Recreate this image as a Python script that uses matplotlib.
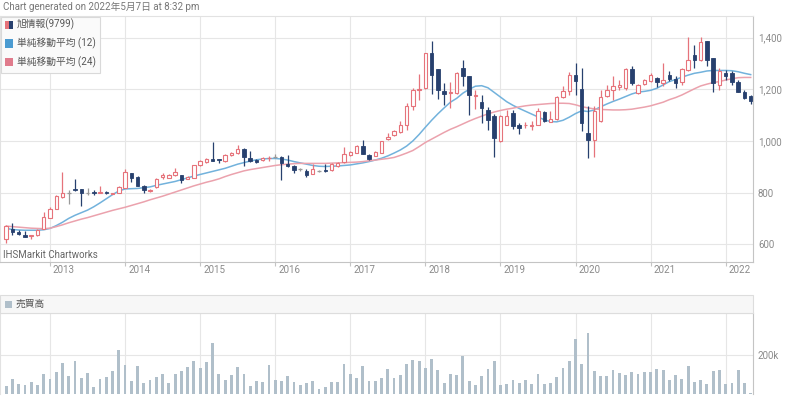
import numpy as np
import pandas as pd
import matplotlib
matplotlib.use("Agg")
import matplotlib.pyplot as plt
from matplotlib.patches import Rectangle
from matplotlib.transforms import ScaledTranslation

plt.rcParams["font.family"] = ["Roboto", "Noto Sans CJK JP", "DejaVu Sans"]

# 月足データ (2012年6月 〜 2022年5月)
months = pd.period_range("2012-06", "2022-05", freq="M")

opens = [619, 660, 647, 637, 632, 634, 660, 702, 738, 783, 800, 815, 812, 800, 803, 800, 803, 796, 800, 818,
         876, 861, 826, 805, 822, 859, 858, 867, 867, 854, 858, 905, 918, 931, 931, 922, 946, 952, 968, 935,
         926, 926, 933, 939, 939, 909, 903, 890, 885, 872, 885, 887, 887, 903, 917, 946, 955, 981, 946, 943,
         955, 1007, 1024, 1034, 1060, 1135, 1198, 1205, 1340, 1278, 1192, 1186, 1185, 1282, 1250, 1175, 1150, 1121, 1095, 1000,
         1063, 1108, 1063, 1060, 1058, 1063, 1114, 1073, 1086, 1172, 1192, 1254, 1203, 1030, 1004, 1078, 1175, 1198, 1208, 1204,
         1278, 1185, 1221, 1234, 1243, 1224, 1254, 1239, 1227, 1276, 1334, 1314, 1386, 1321, 1217, 1265, 1265, 1230, 1191, 1175]
highs = [674, 684, 654, 650, 637, 660, 725, 744, 790, 880, 809, 854, 812, 818, 809, 826, 805, 800, 826, 891,
         876, 865, 828, 812, 855, 874, 870, 897, 867, 864, 906, 926, 934, 997, 931, 951, 957, 983, 974, 961,
         929, 939, 942, 948, 942, 946, 906, 897, 890, 909, 888, 909, 916, 920, 975, 961, 985, 1004, 948, 962,
         1000, 1030, 1043, 1076, 1148, 1205, 1259, 1342, 1388, 1280, 1224, 1230, 1268, 1314, 1252, 1199, 1177, 1130, 1104, 1101,
         1121, 1121, 1069, 1072, 1076, 1127, 1117, 1117, 1175, 1211, 1266, 1301, 1282, 1134, 1134, 1199, 1217, 1250, 1237, 1282,
         1291, 1220, 1240, 1263, 1247, 1302, 1269, 1250, 1282, 1402, 1373, 1402, 1388, 1321, 1282, 1276, 1269, 1237, 1198, 1179]
lows = [606, 637, 634, 628, 619, 632, 658, 701, 735, 777, 757, 805, 748, 792, 792, 800, 796, 794, 800, 816,
        841, 824, 800, 803, 818, 851, 855, 864, 836, 851, 856, 903, 916, 922, 913, 918, 942, 948, 903, 918,
        913, 922, 922, 932, 849, 898, 875, 884, 862, 870, 880, 880, 884, 899, 916, 943, 952, 949, 926, 940,
        952, 1004, 1020, 1030, 1043, 1119, 1159, 1202, 1181, 1163, 1140, 1128, 1180, 1211, 1099, 1125, 1069, 1043, 939, 997,
        1060, 1048, 1028, 1050, 1043, 1060, 1075, 1072, 1082, 1168, 1177, 1179, 1037, 932, 939, 1075, 1172, 1159, 1198, 1198,
        1217, 1183, 1217, 1230, 1208, 1211, 1234, 1204, 1217, 1269, 1282, 1308, 1291, 1191, 1198, 1237, 1217, 1188, 1162, 1144]
closes = [671, 647, 641, 628, 636, 654, 706, 738, 786, 800, 800, 808, 800, 800, 797, 803, 797, 800, 822, 880,
          857, 826, 809, 809, 851, 867, 867, 880, 849, 860, 905, 922, 931, 922, 925, 944, 955, 970, 939, 922,
          918, 935, 935, 939, 916, 901, 887, 890, 868, 890, 885, 882, 909, 916, 949, 956, 981, 949, 929, 956,
          998, 1017, 1037, 1063, 1135, 1198, 1203, 1340, 1256, 1198, 1183, 1190, 1265, 1250, 1179, 1178, 1127, 1082, 1010, 1095,
          1095, 1057, 1050, 1062, 1062, 1117, 1078, 1086, 1172, 1195, 1254, 1231, 1069, 1004, 1117, 1172, 1198, 1213, 1217, 1278,
          1224, 1217, 1237, 1256, 1227, 1237, 1239, 1224, 1278, 1312, 1312, 1382, 1314, 1224, 1269, 1250, 1227, 1191, 1166, 1153]

# 単純移動平均 (チャートから読み取り)
sma12 = [661, 657, 655, 654, 654, 654, 656, 661, 672, 685, 700, 712, 722, 732, 745, 760, 776, 792, 806, 814,
         815, 816, 819, 822, 828, 833, 838, 843, 850, 857, 864, 870, 876, 882, 888, 894, 902, 910, 916, 922,
         927, 930, 932, 932, 930, 926, 920, 915, 910, 905, 902, 901, 902, 903, 905, 907, 911, 915, 920, 926,
         933, 942, 953, 965, 980, 1000, 1025, 1053, 1080, 1105, 1128, 1150, 1165, 1185, 1200, 1212, 1214, 1206, 1188, 1170,
         1152, 1138, 1126, 1115, 1104, 1093, 1082, 1075, 1074, 1080, 1092, 1106, 1117, 1114, 1120, 1132, 1143, 1153, 1162, 1172,
         1182, 1189, 1192, 1196, 1204, 1217, 1230, 1238, 1247, 1255, 1262, 1266, 1271, 1273, 1273, 1273, 1272, 1268, 1262, 1257]
sma24 = [670, 668, 666, 664, 662, 661, 660, 662, 668, 675, 683, 690, 697, 703, 710, 717, 724, 731, 737, 743,
         750, 757, 764, 772, 779, 786, 794, 802, 810, 818, 826, 833, 840, 846, 853, 862, 870, 877, 884, 889,
         893, 897, 901, 905, 908, 910, 912, 913, 913, 913, 913, 913, 914, 915, 916, 917, 918, 920, 923, 926,
         929, 932, 936, 944, 953, 963, 978, 994, 1007, 1020, 1033, 1045, 1055, 1066, 1077, 1087, 1096, 1105, 1112, 1118,
         1123, 1127, 1132, 1136, 1139, 1141, 1143, 1145, 1146, 1146, 1145, 1140, 1133, 1128, 1124, 1122, 1121, 1120, 1120, 1121,
         1123, 1127, 1131, 1136, 1143, 1150, 1160, 1168, 1178, 1190, 1202, 1213, 1220, 1226, 1230, 1236, 1241, 1245, 1246, 1246]

# 売買高 (千株)
volume_k = [42, 76, 51, 46, 63, 46, 100, 76, 112, 159, 92, 168, 80, 108, 37, 76, 88, 119, 222, 146,
            68, 142, 58, 71, 88, 100, 54, 103, 119, 139, 168, 134, 163, 259, 103, 73, 97, 137, 103, 42,
            68, 63, 149, 73, 68, 92, 59, 47, 54, 68, 27, 37, 63, 63, 154, 100, 83, 142, 68, 68,
            80, 129, 83, 95, 153, 171, 166, 132, 178, 124, 58, 102, 95, 195, 66, 46, 90, 127, 170, 46,
            53, 69, 56, 69, 49, 102, 53, 56, 86, 132, 170, 278, 153, 310, 119, 90, 90, 120, 107, 98,
            112, 103, 112, 112, 127, 124, 71, 98, 78, 144, 61, 71, 49, 117, 120, 51, 58, 120, 56, 7]

price_ticks = [600, 800, 1000, 1200, 1400]

RED = "#e6737b"
NAVY = "#27406e"
GRAY = "#9a9a9a"
BLUE = "#72b2dc"
PINK = "#eba2ad"
VOLC = "#b0bfca"
GRID = "#e6e6e6"
TXT = "#777777"

W, H = 800, 396
fig = plt.figure(figsize=(W / 100, H / 100), dpi=100)


def box(x0, y0, x1, y1):
    # ピクセル座標(上が0) -> figure座標
    return [x0 / W, 1 - y1 / H, (x1 - x0) / W, (y1 - y0) / H]


ax = fig.add_axes(box(0, 16, 753, 262))
vax = fig.add_axes(box(0, 313, 753, 394))

x = np.arange(len(months))
o, h, l, c = map(np.array, (opens, highs, lows, closes))
up = c > o
down = c < o
flat = c == o
wick_colors = np.where(up, RED, np.where(down, NAVY, GRAY))

# ローソク足
ax.vlines(x, l, h, colors=wick_colors, lw=0.9, zorder=3)
lo = np.minimum(o, c)
ht = np.abs(c - o)
ax.bar(x[up], ht[up], bottom=lo[up], width=0.55, facecolor="white", edgecolor=RED, lw=0.8, zorder=4)
ax.bar(x[down], ht[down], bottom=lo[down], width=0.55, facecolor=NAVY, edgecolor=NAVY, lw=0.6, zorder=4)
ax.hlines(c[flat], x[flat] - 0.3, x[flat] + 0.3, colors=GRAY, lw=0.9, zorder=4)

ax.plot(x, sma12, color=BLUE, lw=1.1, zorder=2)
ax.plot(x, sma24, color=PINK, lw=1.1, zorder=2)

ax.set_xlim(-0.99, 119.37)
ax.set_ylim(531, 1484)

year_idx = [i for i, p in enumerate(months) if p.month == 1]
year_labels = [str(months[i].year) for i in year_idx]

for a in (ax, vax):
    a.set_xlim(-0.99, 119.37)
    a.set_xticks(year_idx)
    a.grid(True, color=GRID, lw=0.8, zorder=0)
    a.set_axisbelow(True)
    a.yaxis.tick_right()
    a.tick_params(axis="y", length=0, pad=3.6, labelsize=7, labelcolor="#8a8a8a")
    for side in ("top", "left"):
        a.spines[side].set_color("#e2e2e2")
    for side in ("right", "bottom"):
        a.spines[side].set_color("#c4c4c4")

ax.set_yticks(price_ticks)
ax.set_yticklabels([f"{v:,}" for v in price_ticks])
ax.set_xticklabels(year_labels, ha="left")
ax.tick_params(axis="x", length=3, width=0.8, color="#c4c4c4", pad=-1, labelsize=7, labelcolor="#8a8a8a")
for lbl in ax.get_xticklabels():
    lbl.set_transform(lbl.get_transform() + ScaledTranslation(0.03, 0, fig.dpi_scale_trans))

# 売買高
vax.bar(x, volume_k, width=0.45, color=VOLC, zorder=3)
vax.set_ylim(0, 412)
vax.set_yticks([200])
vax.set_yticklabels(["200k"])
vax.tick_params(axis="x", length=0, labelbottom=False)
vax.spines["bottom"].set_visible(False)

# テキスト類
fig.text(3 / W, 1 - 7 / H, "Chart generated on 2022年5月7日 at 8:32 pm",
         fontsize=7, color=TXT, va="center", ha="left")
fig.text(3 / W, 1 - 255 / H, "IHSMarkit Chartworks", fontsize=7, color="#666666", va="center", ha="left")

# 凡例 (左上)
fig.patches.append(Rectangle((1 / W, 1 - 73 / H), 99 / W, 56 / H, transform=fig.transFigure,
                             facecolor="#fafafa", edgecolor="#d9d9d9", lw=0.8, zorder=5))
fig.patches.append(Rectangle((5 / W, 1 - 29 / H), 4 / W, 8 / H, transform=fig.transFigure,
                             facecolor=RED, edgecolor="none", zorder=6))
fig.patches.append(Rectangle((9 / W, 1 - 29 / H), 4 / W, 8 / H, transform=fig.transFigure,
                             facecolor=NAVY, edgecolor="none", zorder=6))
fig.patches.append(Rectangle((5 / W, 1 - 47.5 / H), 8 / W, 8 / H, transform=fig.transFigure,
                             facecolor="#4b9bd1", edgecolor="none", zorder=6))
fig.patches.append(Rectangle((5 / W, 1 - 66 / H), 8 / W, 8 / H, transform=fig.transFigure,
                             facecolor="#e07b8c", edgecolor="none", zorder=6))
legend_items = [("旭情報(9799)", 24.5), ("単純移動平均 (12)", 43.5), ("単純移動平均 (24)", 62)]
for label, yy in legend_items:
    fig.text(17 / W, 1 - yy / H, label, fontsize=7, color="#555555", va="center", ha="left", zorder=7)

# 売買高ヘッダー
fig.patches.append(Rectangle((0, 1 - 313 / H), 753 / W, 18 / H, transform=fig.transFigure,
                             facecolor="#f7f7f7", edgecolor="#dddddd", lw=0.8, zorder=1))
fig.patches.append(Rectangle((5 / W, 1 - 307.5 / H), 7 / W, 7 / H, transform=fig.transFigure,
                             facecolor=VOLC, edgecolor="none", zorder=2))
fig.text(16 / W, 1 - 304 / H, "売買高", fontsize=7, color="#555555", va="center", ha="left")

fig.savefig("out.png", dpi=100)
